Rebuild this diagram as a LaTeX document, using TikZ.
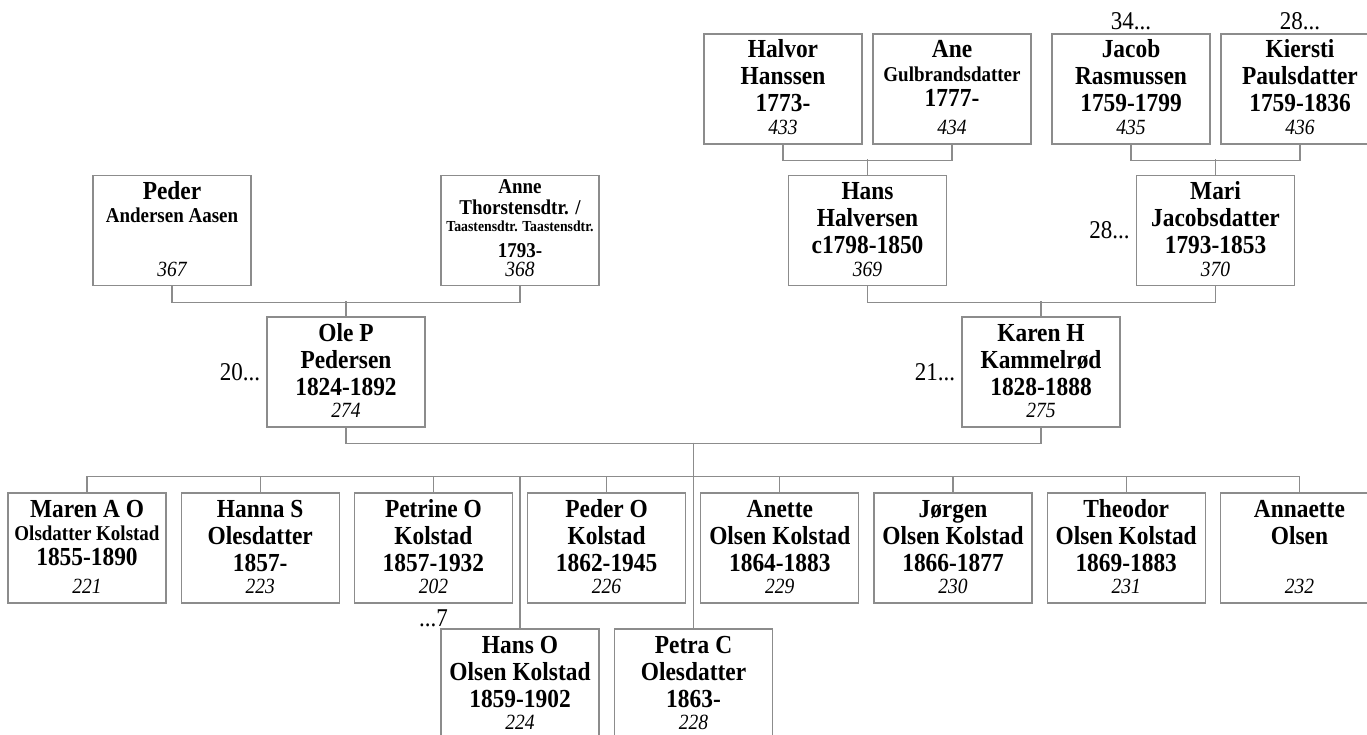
\documentclass[tikz,border=0pt]{standalone}
\usepackage{fontspec}
\setmainfont{Liberation Serif}[FakeStretch=0.9]
\usetikzlibrary{positioning}

\definecolor{linegray}{RGB}{140,140,140}
\newcommand{\nm}[1]{\rule{0pt}{20pt}#1}
\newcommand{\subn}[1]{{\fontsize{21.1}{23}\selectfont #1}}
\newcommand{\pnum}[1]{\rule[-5.4pt]{0pt}{5.4pt}{\mdseries\itshape\fontsize{21.7}{23}\selectfont #1}}

\tikzset{
  person/.style={draw=linegray, line width=1.3pt, minimum width=158pt, minimum height=110pt,
                 inner sep=0pt, align=center, font=\bfseries\fontsize{26}{27}\selectfont},
  link/.style={draw=linegray, line width=1.3pt},
  relno/.style={inner sep=0pt, font=\fontsize{25.6}{27}\selectfont}
}

\begin{document}
\begin{tikzpicture}[x=1pt, y=-1pt]
            \useasboundingbox (0,0) rectangle (1367,735);
            % great-grandparents
            \node[person] (halvor)  at (783, 89)  {\nm{Halvor} \\ Hanssen \\ 1773- \\[-4.4pt] \pnum{433}};
            \node[person] (ane)     at (952, 89)  {\nm{Ane} \\[-3.5pt] \subn{Gulbrandsdatter} \\[-2.2pt] 1777- \\[1.3pt] \pnum{434}};
            \node[person] (jacob)   at (1131, 89) {\nm{Jacob} \\ Rasmussen \\ 1759-1799 \\[-4.4pt] \pnum{435}};
            \node[person] (kiersti) at (1300, 89) {\nm{Kiersti} \\ Paulsdatter \\ 1759-1836 \\[-4.4pt] \pnum{436}};
            % grandparents
            \node[person] (peder) at (172, 230.5)  {\nm{Peder} \\[-3.5pt] \subn{Andersen Aasen} \\[-2.2pt] {} \\[1.3pt] \pnum{367}};
            \node[person, font=\bfseries\fontsize{21.1}{21}\selectfont] (anne) at (520, 230.5)
                {\rule{0pt}{14.2pt}Anne \\ Thorstensdtr. / \\[-4.5pt] {\fontsize{15.3}{16}\selectfont Taastensdtr. Taastensdtr.} \\[5pt] 1793- \\[-2.1pt] \pnum{368}};
            \node[person] (hans)  at (867.5, 230.5) {\nm{Hans} \\ Halversen \\ c1798-1850 \\[-4.4pt] \pnum{369}};
            \node[person] (mari)  at (1215.5, 230.5) {\nm{Mari} \\ Jacobsdatter \\ 1793-1853 \\[-4.4pt] \pnum{370}};
            % parents
            \node[person] (ole)   at (346, 372)    {\nm{Ole P} \\ Pedersen \\ 1824-1892 \\[-4.4pt] \pnum{274}};
            \node[person] (karen) at (1041, 372)   {\nm{Karen H} \\ Kammelrød \\ 1828-1888 \\[-4.4pt] \pnum{275}};
            % children
            \node[person] (maren)    at (87, 548)     {\nm{Maren A O} \\[-3.5pt] \subn{Olsdatter Kolstad} \\[-2.2pt] 1855-1890 \\[1.3pt] \pnum{221}};
            \node[person] (hanna)    at (260.2, 548)  {\nm{Hanna S} \\ Olesdatter \\ 1857- \\[-4.4pt] \pnum{223}};
            \node[person] (petrine)  at (433.4, 548)  {\nm{Petrine O} \\ Kolstad \\ 1857-1932 \\[-4.4pt] \pnum{202}};
            \node[person] (pedero)   at (606.6, 548)  {\nm{Peder O} \\ Kolstad \\ 1862-1945 \\[-4.4pt] \pnum{226}};
            \node[person] (anette)   at (779.8, 548)  {\nm{Anette} \\ Olsen Kolstad \\ 1864-1883 \\[-4.4pt] \pnum{229}};
            \node[person] (jorgen)   at (953, 548)    {\nm{Jørgen} \\ Olsen Kolstad \\ 1866-1877 \\[-4.4pt] \pnum{230}};
            \node[person] (theodor)  at (1126.2, 548) {\nm{Theodor} \\ Olsen Kolstad \\ 1869-1883 \\[-4.4pt] \pnum{231}};
            \node[person] (annaette) at (1299.4, 548) {\nm{Annaette} \\ Olsen \\ {} \\[-4.4pt] \pnum{232}};
            \node[person] (hanso)    at (520, 684)    {\nm{Hans O} \\ Olsen Kolstad \\ 1859-1902 \\[-4.4pt] \pnum{224}};
            \node[person] (petra)    at (693.5, 684)  {\nm{Petra C} \\ Olesdatter \\ 1863- \\[-4.4pt] \pnum{228}};
            % references to other pages
            \node[relno, above=3.5pt of jacob]   (refjacob)   {34...};
            \node[relno, above=3.5pt of kiersti] (refkiersti) {28...};
            \node[relno, left=6pt of mari]       (refmari)    {28...};
            \node[relno, left=6pt of ole]        (refole)     {20...};
            \node[relno, left=6pt of karen]      (refkaren)   {21...};
            \node[relno, below=6pt of petrine]   (refpetrine) {...7};
            % lines
            \draw[link] (halvor.south) -- ++(0,16) -| (ane.south);
            \draw[link] (hans.north) -- ++(0,-15.5);
            \draw[link] (jacob.south) -- ++(0,16) -| (kiersti.south);
            \draw[link] (mari.north) -- ++(0,-15.5);
            \draw[link] (peder.south) -- ++(0,16) -| (anne.south);
            \draw[link] (ole.north) -- ++(0,-15.5);
            \draw[link] (hans.south) -- ++(0,16) -| (mari.south);
            \draw[link] (karen.north) -- ++(0,-15.5);
            \draw[link] (ole.south) -- ++(0,15.5) -| (karen.south);
            \coordinate (fam) at (693.5, 442.5);
            \draw[link] (fam) -- (petra.north);
            \draw[link] (maren.north) -- ++(0,-16) -| (annaette.north);
            \draw[link] (hanna.north) -- ++(0,-16);
            \draw[link] (petrine.north) -- ++(0,-16);
            \draw[link] (pedero.north) -- ++(0,-16);
            \draw[link] (anette.north) -- ++(0,-16);
            \draw[link] (jorgen.north) -- ++(0,-16);
            \draw[link] (theodor.north) -- ++(0,-16);
            \draw[link] (hanso.north) -- ++(0,-152);
        \end{tikzpicture}
\end{document}
